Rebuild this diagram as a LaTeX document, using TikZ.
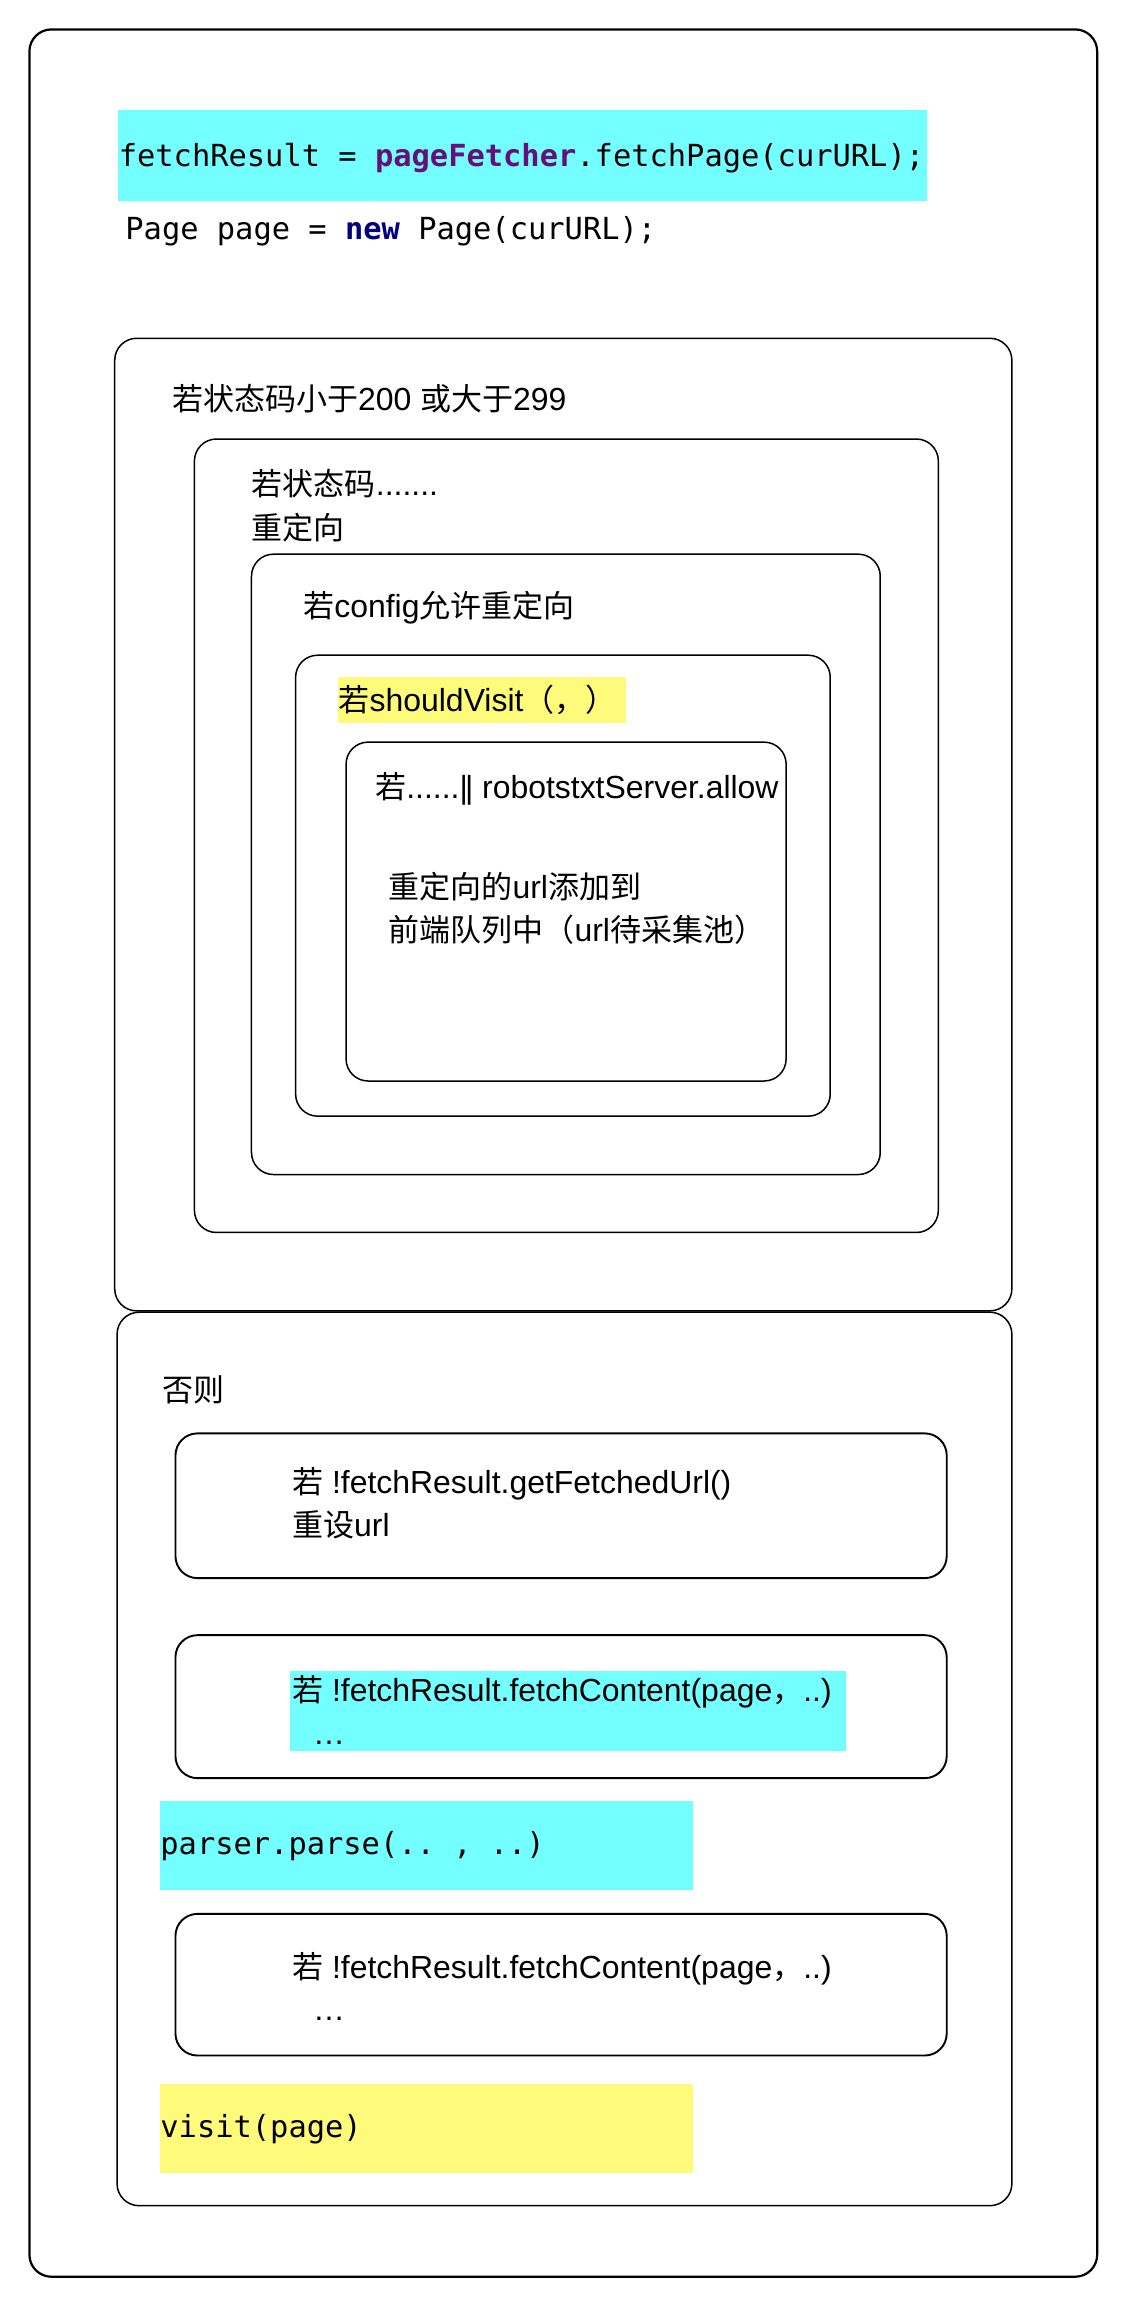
\documentclass[tikz,border=0pt]{standalone}
\usepackage{fontspec}
\setmainfont[Scale=1.03]{Liberation Sans}
\setmonofont{DejaVu Sans Mono}
\newfontfamily\cjk{Noto Sans CJK SC}
\newcommand\zh[1]{{\cjk #1}}
\definecolor{hlcyan}{HTML}{73FEFF}
\definecolor{hlyellow}{HTML}{FFFB7A}
\definecolor{kwpurple}{HTML}{660E7A}
\definecolor{kwnavy}{HTML}{000080}
\begin{document}
\begin{tikzpicture}[x=0.7353pt,y=-0.7353pt,
  frame/.style={draw=black, line width=0.75pt, rounded corners=11pt},
  framethick/.style={draw=black, line width=0.95pt, rounded corners=11pt},
  outerframe/.style={draw=black, line width=1.1pt, rounded corners=11pt},
  txt/.style={anchor=base west, inner sep=0pt, font=\fontsize{15.5}{18}\selectfont},
  code/.style={anchor=base west, inner sep=0pt, font=\ttfamily\fontsize{15.2}{18}\selectfont},
  hlc/.style={fill=hlcyan},
  hly/.style={fill=hlyellow}]
\useasboundingbox (0,0) rectangle (765,1572);
\fill[white] (0,0) rectangle (765,1572);
% outer frame
\path[outerframe] (20,20) rectangle (746,1548);
% top code
\fill[hlc] (80,75) rectangle (630,137);
\node[code] (c1) at (80.5,113) {fetchResult = {\bfseries\color{kwpurple}pageFetcher}.fetchPage(curURL);};
\node[code] (c2) at (85,162.6) {Page page = {\bfseries\color{kwnavy}new} Page(curURL);};
% nested boxes
\path[frame] (78,230) rectangle (688,891.3);
\node[txt] (t1) at (116.7,279) {\zh{若状态码小于}200 \zh{或大于}299};
\path[frame] (132.2,298.5) rectangle (638,838);
\node[txt] (t2) at (171,336.6) {\zh{若状态码}.......};
\node[txt] (t3) at (171,366.5) {\zh{重定向}};
\path[frame] (171,376.8) rectangle (598.5,798.6);
\node[txt] (t4) at (206,420) {\zh{若}config\zh{允许重定向}};
\path[frame] (201,445.5) rectangle (564.5,758.9);
\fill[hly] (230,460.4) rectangle (425.7,491.4);
\node[txt] (t5) at (230,484) {\zh{若}shouldVisit\zh{（，）}};
\path[frame] (235.3,504.6) rectangle (534.5,735);
\node[txt] (t6) at (254.9,542.8) {\zh{若}......|\kern-0.09em| robotstxtServer.allow};
\node[txt] (t7) at (263.9,610.7) {\zh{重定向的}url\zh{添加到}};
\node[txt] (t8) at (263.9,640.3) {\zh{前端队列中（}url\zh{待采集池）}};
% else branch
\path[frame] (79.6,892.2) rectangle (688,1499.7);
\node[txt] (t9) at (110,953) {\zh{否则}};
\path[framethick] (119.3,974.6) rectangle (643.7,1073);
\node[txt] (t10) at (198.4,1015.4) {\zh{若} !fetchResult.getFetchedUrl()};
\node[txt] (t11) at (198.4,1044.5) {\zh{重设}url};
\path[framethick] (119.3,1111.8) rectangle (643.7,1209);
\fill[hlc] (197.5,1136.3) rectangle (575.5,1190.7);
\node[txt] (t12) at (198.4,1157.2) {\zh{若} !fetchResult.fetchContent(page\zh{，}..)};
\node[txt] (t13) at (212.7,1186) {…};
\fill[hlc] (108.8,1224.5) rectangle (471,1285);
\node[code] (c3) at (108.8,1261) {parser.parse(.. , ..)};
\path[framethick] (119.3,1301.3) rectangle (643.7,1397.6);
\node[txt] (t14) at (198.4,1345.5) {\zh{若} !fetchResult.fetchContent(page\zh{，}..)};
\node[txt] (t15) at (212.7,1374.1) {…};
\fill[hly] (108.8,1417) rectangle (471,1477.6);
\node[code] (c4) at (108.8,1453) {visit(page)};
\end{tikzpicture}
\end{document}
